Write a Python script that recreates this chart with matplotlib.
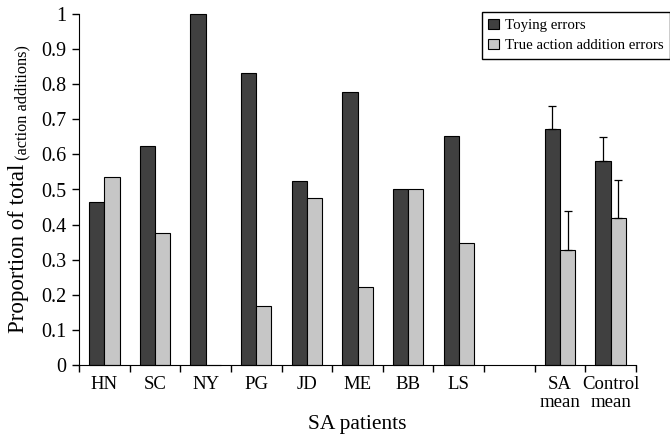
import numpy as np
import matplotlib.pyplot as plt

plt.rcParams['font.family'] = ['Liberation Serif', 'DejaVu Serif']

labels = ["HN", "SC", "NY", "PG", "JD", "ME", "BB", "LS", "", "SA\nmean", "Control\nmean"]
toying = [0.465, 0.625, 1.0, 0.833, 0.524, 0.778, 0.5, 0.652, np.nan, 0.672, 0.582]
true_add = [0.535, 0.375, 0.0, 0.167, 0.476, 0.222, 0.5, 0.348, np.nan, 0.328, 0.418]
toy_err = [0, 0, 0, 0, 0, 0, 0, 0, 0, 0.066, 0.068]
true_err = [0, 0, 0, 0, 0, 0, 0, 0, 0, 0.111, 0.109]

DARK, LIGHT = "#404040", "#c6c6c6"

fig = plt.figure(figsize=(6.7, 4.36), dpi=100)
ax = fig.add_axes([79 / 670, 1 - 365 / 436, (636 - 79) / 670, (365 - 14) / 436])

x = np.arange(len(labels)) + 0.5
w = 0.3
ax.bar(x - w / 2, toying, w, color=DARK, edgecolor="black", lw=0.8,
       label="Toying errors", clip_on=False)
ax.bar(x + w / 2, true_add, w, color=LIGHT, edgecolor="black", lw=0.8,
       label="True action addition errors", clip_on=False)

# one-sided (upper) error bars on the two means
for i in (9, 10):
    ax.errorbar(x[i] - w / 2, toying[i], yerr=[[0], [toy_err[i]]], fmt="none",
                ecolor="black", elinewidth=0.9, capsize=3.2, capthick=0.9)
    ax.errorbar(x[i] + w / 2, true_add[i], yerr=[[0], [true_err[i]]], fmt="none",
                ecolor="black", elinewidth=0.9, capsize=3.2, capthick=0.9)

ax.set_xlim(0, len(labels))
ax.set_ylim(0, 1)
ax.set_yticks(np.arange(0, 1.01, 0.1))
ax.set_yticklabels(["0"] + [f"{v:.1f}" for v in np.arange(0.1, 0.95, 0.1)] + ["1"])
ax.set_xticks(np.arange(0, len(labels) + 1))
ax.set_xticklabels([])
ax.set_xticks(x, minor=True)
ax.set_xticklabels(labels, minor=True, fontsize=13.5, linespacing=1.05)
ax.tick_params(axis="x", which="minor", length=0, pad=8)
ax.tick_params(axis="x", which="major", length=5, width=1)
ax.tick_params(axis="y", length=5, width=1, labelsize=14.5, pad=4)
for s in ("top", "right"):
    ax.spines[s].set_visible(False)
ax.set_xlabel("SA patients", fontsize=15.5, labelpad=3)

t1 = fig.text(19 / 670, 1 - 333 / 436, "Proportion of total", rotation=90,
              fontsize=16.5, ha="center", va="bottom")
ax.annotate(" (action additions)", xy=(0.64, 1), xycoords=t1, rotation=90,
            fontsize=11.7, ha="center", va="bottom")

fig.legend(loc="upper right", bbox_to_anchor=(1.0, 1 - 12 / 436), fontsize=10.7,
           frameon=True, fancybox=False, edgecolor="black", framealpha=1,
           handlelength=0.7, handleheight=0.7, handletextpad=0.4,
           borderaxespad=0, labelspacing=0.45, borderpad=0.45)

fig.savefig("out.png", dpi=100)
